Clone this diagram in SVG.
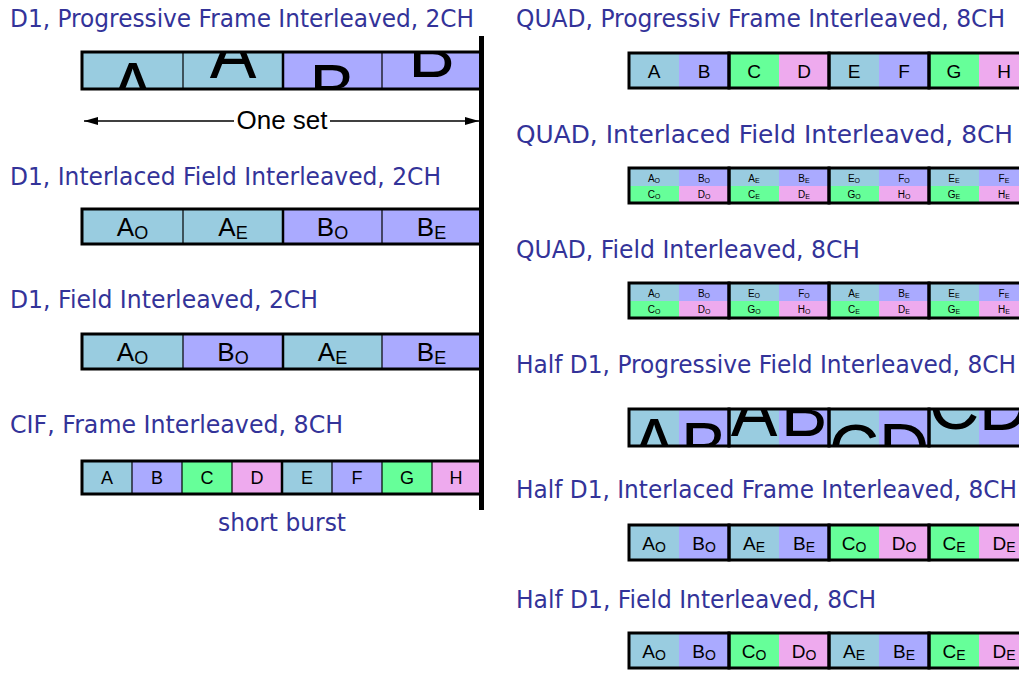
<svg xmlns="http://www.w3.org/2000/svg" width="1019" height="678" viewBox="0 0 1019 678">
<style>
.t{font-family:"DejaVu Sans",Verdana,sans-serif;font-size:24px;fill:#333399}
.c{font-family:"Liberation Sans",Arial,sans-serif;fill:#000;text-anchor:middle}
.b{fill:#99CCE0}.l{fill:#AAAAFF}.g{fill:#66FF99}.p{fill:#EEAAEE}
.thin{stroke:#000;stroke-width:1.2}
.thick{stroke:#000;stroke-width:2.5}
.frame{fill:none;stroke:#000;stroke-width:3}
.big{font-family:"Liberation Sans",Arial,sans-serif;font-size:70px;text-anchor:middle;fill:#000}
.s18{font-size:18px}.s19{font-size:19px}.s26{font-size:26px}.s10{font-size:10px}
</style>
<defs>
<marker id="ah" viewBox="0 0 14 8" refX="14" refY="4" markerWidth="14" markerHeight="8" markerUnits="userSpaceOnUse" orient="auto-start-reverse"><path d="M0,0 L14,4 L0,8 Z" fill="#000"/></marker>
</defs>

<g id="titles">
<text class="t" x="10" y="27" textLength="464" lengthAdjust="spacingAndGlyphs">D1, Progressive Frame Interleaved, 2CH</text>
<text class="t" x="10" y="185" textLength="431" lengthAdjust="spacingAndGlyphs">D1, Interlaced Field Interleaved, 2CH</text>
<text class="t" x="10" y="308" textLength="308" lengthAdjust="spacingAndGlyphs">D1, Field Interleaved, 2CH</text>
<text class="t" x="10" y="433" textLength="333" lengthAdjust="spacingAndGlyphs">CIF, Frame Interleaved, 8CH</text>
<text class="t" x="218" y="531" textLength="128" lengthAdjust="spacingAndGlyphs">short burst</text>
<text class="t" x="516" y="27" textLength="489" lengthAdjust="spacingAndGlyphs">QUAD, Progressiv Frame Interleaved, 8CH</text>
<text class="t" x="516" y="143" textLength="497" lengthAdjust="spacingAndGlyphs">QUAD, Interlaced Field Interleaved, 8CH</text>
<text class="t" x="516" y="258" textLength="344" lengthAdjust="spacingAndGlyphs">QUAD, Field Interleaved, 8CH</text>
<text class="t" x="516" y="373" textLength="500" lengthAdjust="spacingAndGlyphs">Half D1, Progressive Field Interleaved, 8CH</text>
<text class="t" x="516" y="498" textLength="501" lengthAdjust="spacingAndGlyphs">Half D1, Interlaced Frame Interleaved, 8CH</text>
<text class="t" x="516" y="608" textLength="360" lengthAdjust="spacingAndGlyphs">Half D1, Field Interleaved, 8CH</text>
</g>

<g id="d1-progressive">
<rect class="b" x="82" y="52" width="201" height="37"/>
<rect class="l" x="283" y="52" width="198" height="37"/>
<svg x="82" y="52" width="101" height="37" overflow="hidden"><text class="big" x="50.5" y="60">A</text></svg>
<svg x="183" y="52" width="100" height="37" overflow="hidden"><text class="big" x="50" y="26">A</text></svg>
<svg x="283" y="52" width="99" height="37" overflow="hidden"><text class="big" x="49.5" y="62">B</text></svg>
<svg x="382" y="52" width="99" height="37" overflow="hidden"><text class="big" x="49.5" y="25">B</text></svg>
<line class="thin" x1="183" y1="52" x2="183" y2="89"/>
<line class="thin" x1="382" y1="52" x2="382" y2="89"/>
<line class="thick" x1="283" y1="52" x2="283" y2="89"/>
<rect class="frame" x="82" y="52" width="399" height="37"/>
</g>

<g id="connectors">
<line x1="84" y1="121" x2="234" y2="121" stroke="#000" stroke-width="1.3" marker-start="url(#ah)"/>
<line x1="330" y1="121" x2="479" y2="121" stroke="#000" stroke-width="1.3" marker-end="url(#ah)"/>
</g>
<g id="one-set">
<text class="c s26" x="282" y="129">One set</text>
</g>

<g id="d1-interlaced">
<rect class="b" x="82" y="209" width="201" height="35"/>
<rect class="l" x="283" y="209" width="198" height="35"/>
<line class="thin" x1="183" y1="209" x2="183" y2="244"/>
<line class="thin" x1="382" y1="209" x2="382" y2="244"/>
<line class="thick" x1="283" y1="209" x2="283" y2="244"/>
<rect class="frame" x="82" y="209" width="399" height="35"/>
<text class="c s26" x="132.5" y="236">A<tspan font-size="18" dy="3">O</tspan></text>
<text class="c s26" x="233" y="236">A<tspan font-size="18" dy="3">E</tspan></text>
<text class="c s26" x="332.5" y="236">B<tspan font-size="18" dy="3">O</tspan></text>
<text class="c s26" x="431.5" y="236">B<tspan font-size="18" dy="3">E</tspan></text>
</g>

<g id="d1-field">
<rect class="b" x="82" y="334" width="101" height="35"/>
<rect class="l" x="183" y="334" width="100" height="35"/>
<rect class="b" x="283" y="334" width="99" height="35"/>
<rect class="l" x="382" y="334" width="99" height="35"/>
<line class="thin" x1="183" y1="334" x2="183" y2="369"/>
<line class="thin" x1="382" y1="334" x2="382" y2="369"/>
<line class="thick" x1="283" y1="334" x2="283" y2="369"/>
<rect class="frame" x="82" y="334" width="399" height="35"/>
<text class="c s26" x="132.5" y="361">A<tspan font-size="18" dy="3">O</tspan></text>
<text class="c s26" x="233" y="361">B<tspan font-size="18" dy="3">O</tspan></text>
<text class="c s26" x="332.5" y="361">A<tspan font-size="18" dy="3">E</tspan></text>
<text class="c s26" x="431.5" y="361">B<tspan font-size="18" dy="3">E</tspan></text>
</g>

<g id="cif">
<rect class="b" x="82" y="461" width="50" height="33"/>
<rect class="l" x="132" y="461" width="50" height="33"/>
<rect class="g" x="182" y="461" width="50" height="33"/>
<rect class="p" x="232" y="461" width="50" height="33"/>
<rect class="b" x="282" y="461" width="50" height="33"/>
<rect class="l" x="332" y="461" width="50" height="33"/>
<rect class="g" x="382" y="461" width="50" height="33"/>
<rect class="p" x="432" y="461" width="49" height="33"/>
<path class="thin" d="M132,461V494M182,461V494M232,461V494M332,461V494M382,461V494M432,461V494"/>
<line class="thick" x1="282" y1="461" x2="282" y2="494"/>
<rect class="frame" x="82" y="461" width="399" height="33"/>
<g class="c s18">
<text x="107" y="484">A</text><text x="157" y="484">B</text><text x="207" y="484">C</text><text x="257" y="484">D</text>
<text x="307" y="484">E</text><text x="357" y="484">F</text><text x="407" y="484">G</text><text x="456" y="484">H</text>
</g>
</g>

<g id="separator">
<rect x="479" y="36" width="5" height="474" fill="#000"/>
</g>

<g id="quad-progressive">
<rect class="b" x="629" y="53" width="50" height="35"/>
<rect class="l" x="679" y="53" width="50" height="35"/>
<rect class="g" x="729" y="53" width="50" height="35"/>
<rect class="p" x="779" y="53" width="50" height="35"/>
<rect class="b" x="829" y="53" width="50" height="35"/>
<rect class="l" x="879" y="53" width="50" height="35"/>
<rect class="g" x="929" y="53" width="50" height="35"/>
<rect class="p" x="979" y="53" width="50" height="35"/>
<g class="frame"><rect x="629" y="53" width="100" height="35"/><rect x="729" y="53" width="100" height="35"/><rect x="829" y="53" width="100" height="35"/><rect x="929" y="53" width="100" height="35"/></g>
<g class="c s19">
<text x="654" y="78">A</text><text x="704" y="78">B</text><text x="754" y="78">C</text><text x="804" y="78">D</text>
<text x="854" y="78">E</text><text x="904" y="78">F</text><text x="954" y="78">G</text><text x="1004" y="78">H</text>
</g>
</g>

<g id="quad-interlaced">
<rect class="b" x="629" y="168" width="50" height="18"/><rect class="l" x="679" y="168" width="50" height="18"/>
<rect class="b" x="729" y="168" width="50" height="18"/><rect class="l" x="779" y="168" width="50" height="18"/>
<rect class="b" x="829" y="168" width="50" height="18"/><rect class="l" x="879" y="168" width="50" height="18"/>
<rect class="b" x="929" y="168" width="50" height="18"/><rect class="l" x="979" y="168" width="50" height="18"/>
<rect class="g" x="629" y="186" width="50" height="17"/><rect class="p" x="679" y="186" width="50" height="17"/>
<rect class="g" x="729" y="186" width="50" height="17"/><rect class="p" x="779" y="186" width="50" height="17"/>
<rect class="g" x="829" y="186" width="50" height="17"/><rect class="p" x="879" y="186" width="50" height="17"/>
<rect class="g" x="929" y="186" width="50" height="17"/><rect class="p" x="979" y="186" width="50" height="17"/>
<g class="frame"><rect x="629" y="168" width="100" height="35"/><rect x="729" y="168" width="100" height="35"/><rect x="829" y="168" width="100" height="35"/><rect x="929" y="168" width="100" height="35"/></g>
<g class="c s10">
<text x="654" y="182">A<tspan font-size="7" dy="1">O</tspan></text><text x="704" y="182">B<tspan font-size="7" dy="1">O</tspan></text>
<text x="754" y="182">A<tspan font-size="7" dy="1">E</tspan></text><text x="804" y="182">B<tspan font-size="7" dy="1">E</tspan></text>
<text x="854" y="182">E<tspan font-size="7" dy="1">O</tspan></text><text x="904" y="182">F<tspan font-size="7" dy="1">O</tspan></text>
<text x="954" y="182">E<tspan font-size="7" dy="1">E</tspan></text><text x="1004" y="182">F<tspan font-size="7" dy="1">E</tspan></text>
<text x="654" y="198">C<tspan font-size="7" dy="1">O</tspan></text><text x="704" y="198">D<tspan font-size="7" dy="1">O</tspan></text>
<text x="754" y="198">C<tspan font-size="7" dy="1">E</tspan></text><text x="804" y="198">D<tspan font-size="7" dy="1">E</tspan></text>
<text x="854" y="198">G<tspan font-size="7" dy="1">O</tspan></text><text x="904" y="198">H<tspan font-size="7" dy="1">O</tspan></text>
<text x="954" y="198">G<tspan font-size="7" dy="1">E</tspan></text><text x="1004" y="198">H<tspan font-size="7" dy="1">E</tspan></text>
</g>
</g>

<g id="quad-field">
<rect class="b" x="629" y="283" width="50" height="18"/><rect class="l" x="679" y="283" width="50" height="18"/>
<rect class="b" x="729" y="283" width="50" height="18"/><rect class="l" x="779" y="283" width="50" height="18"/>
<rect class="b" x="829" y="283" width="50" height="18"/><rect class="l" x="879" y="283" width="50" height="18"/>
<rect class="b" x="929" y="283" width="50" height="18"/><rect class="l" x="979" y="283" width="50" height="18"/>
<rect class="g" x="629" y="301" width="50" height="17"/><rect class="p" x="679" y="301" width="50" height="17"/>
<rect class="g" x="729" y="301" width="50" height="17"/><rect class="p" x="779" y="301" width="50" height="17"/>
<rect class="g" x="829" y="301" width="50" height="17"/><rect class="p" x="879" y="301" width="50" height="17"/>
<rect class="g" x="929" y="301" width="50" height="17"/><rect class="p" x="979" y="301" width="50" height="17"/>
<g class="frame"><rect x="629" y="283" width="100" height="35"/><rect x="729" y="283" width="100" height="35"/><rect x="829" y="283" width="100" height="35"/><rect x="929" y="283" width="100" height="35"/></g>
<g class="c s10">
<text x="654" y="297">A<tspan font-size="7" dy="1">O</tspan></text><text x="704" y="297">B<tspan font-size="7" dy="1">O</tspan></text>
<text x="754" y="297">E<tspan font-size="7" dy="1">O</tspan></text><text x="804" y="297">F<tspan font-size="7" dy="1">O</tspan></text>
<text x="854" y="297">A<tspan font-size="7" dy="1">E</tspan></text><text x="904" y="297">B<tspan font-size="7" dy="1">E</tspan></text>
<text x="954" y="297">E<tspan font-size="7" dy="1">E</tspan></text><text x="1004" y="297">F<tspan font-size="7" dy="1">E</tspan></text>
<text x="654" y="313">C<tspan font-size="7" dy="1">O</tspan></text><text x="704" y="313">D<tspan font-size="7" dy="1">O</tspan></text>
<text x="754" y="313">G<tspan font-size="7" dy="1">O</tspan></text><text x="804" y="313">H<tspan font-size="7" dy="1">O</tspan></text>
<text x="854" y="313">C<tspan font-size="7" dy="1">E</tspan></text><text x="904" y="313">D<tspan font-size="7" dy="1">E</tspan></text>
<text x="954" y="313">G<tspan font-size="7" dy="1">E</tspan></text><text x="1004" y="313">H<tspan font-size="7" dy="1">E</tspan></text>
</g>
</g>

<g id="half-d1-progressive">
<rect class="b" x="629" y="409" width="50" height="37"/><rect class="l" x="679" y="409" width="50" height="37"/>
<rect class="b" x="729" y="409" width="50" height="37"/><rect class="l" x="779" y="409" width="50" height="37"/>
<rect class="b" x="829" y="409" width="50" height="37"/><rect class="l" x="879" y="409" width="50" height="37"/>
<rect class="b" x="929" y="409" width="50" height="37"/><rect class="l" x="979" y="409" width="50" height="37"/>
<svg x="629" y="409" width="50" height="37" overflow="hidden"><text class="big" x="25" y="59">A</text></svg>
<svg x="679" y="409" width="50" height="37" overflow="hidden"><text class="big" x="25" y="63">B</text></svg>
<svg x="729" y="409" width="50" height="37" overflow="hidden"><text class="big" x="25" y="27">A</text></svg>
<svg x="779" y="409" width="50" height="37" overflow="hidden"><text class="big" x="25" y="27">B</text></svg>
<svg x="829" y="409" width="50" height="37" overflow="hidden"><text class="big" x="25" y="65">C</text></svg>
<svg x="879" y="409" width="50" height="37" overflow="hidden"><text class="big" x="25" y="64">D</text></svg>
<svg x="929" y="409" width="50" height="37" overflow="hidden"><text class="big" x="25" y="20">C</text></svg>
<svg x="979" y="409" width="50" height="37" overflow="hidden"><text class="big" x="25" y="21">D</text></svg>
<g class="frame"><rect x="629" y="409" width="100" height="37"/><rect x="729" y="409" width="100" height="37"/><rect x="829" y="409" width="100" height="37"/><rect x="929" y="409" width="100" height="37"/></g>
</g>

<g id="half-d1-interlaced">
<rect class="b" x="629" y="525" width="50" height="35"/><rect class="l" x="679" y="525" width="50" height="35"/>
<rect class="b" x="729" y="525" width="50" height="35"/><rect class="l" x="779" y="525" width="50" height="35"/>
<rect class="g" x="829" y="525" width="50" height="35"/><rect class="p" x="879" y="525" width="50" height="35"/>
<rect class="g" x="929" y="525" width="50" height="35"/><rect class="p" x="979" y="525" width="50" height="35"/>
<g class="frame"><rect x="629" y="525" width="100" height="35"/><rect x="729" y="525" width="100" height="35"/><rect x="829" y="525" width="100" height="35"/><rect x="929" y="525" width="100" height="35"/></g>
<g class="c s19">
<text x="654" y="550">A<tspan font-size="14" dy="2">O</tspan></text><text x="704" y="550">B<tspan font-size="14" dy="2">O</tspan></text>
<text x="754" y="550">A<tspan font-size="14" dy="2">E</tspan></text><text x="804" y="550">B<tspan font-size="14" dy="2">E</tspan></text>
<text x="854" y="550">C<tspan font-size="14" dy="2">O</tspan></text><text x="904" y="550">D<tspan font-size="14" dy="2">O</tspan></text>
<text x="954" y="550">C<tspan font-size="14" dy="2">E</tspan></text><text x="1004" y="550">D<tspan font-size="14" dy="2">E</tspan></text>
</g>
</g>

<g id="half-d1-field">
<rect class="b" x="629" y="633" width="50" height="35"/><rect class="l" x="679" y="633" width="50" height="35"/>
<rect class="g" x="729" y="633" width="50" height="35"/><rect class="p" x="779" y="633" width="50" height="35"/>
<rect class="b" x="829" y="633" width="50" height="35"/><rect class="l" x="879" y="633" width="50" height="35"/>
<rect class="g" x="929" y="633" width="50" height="35"/><rect class="p" x="979" y="633" width="50" height="35"/>
<g class="frame"><rect x="629" y="633" width="100" height="35"/><rect x="729" y="633" width="100" height="35"/><rect x="829" y="633" width="100" height="35"/><rect x="929" y="633" width="100" height="35"/></g>
<g class="c s19">
<text x="654" y="658">A<tspan font-size="14" dy="2">O</tspan></text><text x="704" y="658">B<tspan font-size="14" dy="2">O</tspan></text>
<text x="754" y="658">C<tspan font-size="14" dy="2">O</tspan></text><text x="804" y="658">D<tspan font-size="14" dy="2">O</tspan></text>
<text x="854" y="658">A<tspan font-size="14" dy="2">E</tspan></text><text x="904" y="658">B<tspan font-size="14" dy="2">E</tspan></text>
<text x="954" y="658">C<tspan font-size="14" dy="2">E</tspan></text><text x="1004" y="658">D<tspan font-size="14" dy="2">E</tspan></text>
</g>
</g>
</svg>
